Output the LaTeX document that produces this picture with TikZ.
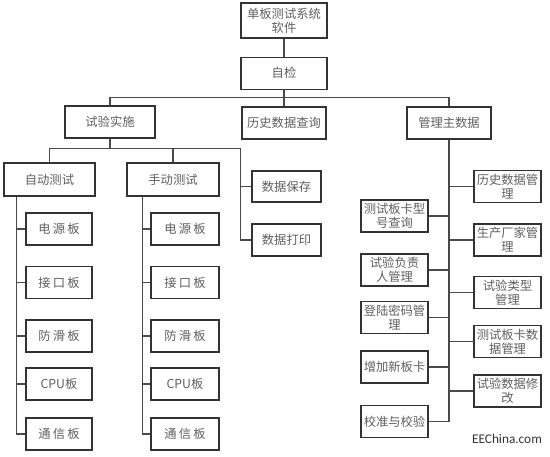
\documentclass[tikz,border=0pt]{standalone}
\usepackage{fontspec}
\setmainfont{Noto Sans CJK SC}
\newfontfamily\widecjk[LetterSpace=18]{Noto Sans CJK SC}
\newfontfamily\wmfont{Carlito}
\usetikzlibrary{positioning}
\definecolor{ink}{HTML}{333333}
\definecolor{txt}{HTML}{606060}
\definecolor{wire}{HTML}{4A4A4A}
\tikzset{
  box/.style={draw=ink,line width=1.1pt,fill=white,align=center,text=txt,font=\fontsize{12.3}{14}\selectfont,inner sep=1pt},
  conn/.style={draw=wire,line width=1.3pt},
  wm/.style={font=\wmfont\fontsize{13.3}{15}\selectfont,text=ink}}

\begin{document}
\begin{tikzpicture}[x=1pt,y=-1pt]
\useasboundingbox (0,0) rectangle (550,457);
% top
\node[box,minimum width=86pt,minimum height=35pt] (root) at (284,20.5) {单板测试系统\\软件};
\node[box,minimum width=86pt,minimum height=32pt,below=18pt of root] (chk) {自检};
\node[box,minimum width=90pt,minimum height=32pt] (shiyan) at (110,122) {试验实施};
\node[box,minimum width=84pt,minimum height=32pt] (lishi) at (284,123) {历史数据查询};
\node[box,minimum width=84pt,minimum height=32pt] (guanli) at (449,123) {管理主数据};
\draw[conn] (root) -- (chk);
\draw[conn] (chk.south) -- ++(0,8) -| (shiyan.north);
\draw[conn] (chk.south) -- ++(0,8) -| (guanli.north);
\draw[conn] (chk) -- (lishi);
% test branch
\node[box,minimum width=91pt,minimum height=33pt] (auto) at (49.5,179.5) {自动测试};
\node[box,minimum width=92pt,minimum height=33pt] (manual) at (173,179.5) {手动测试};
\node[box,minimum width=69pt,minimum height=31pt] (save) at (286.5,186.5) {数据保存};
\node[box,minimum width=69pt,minimum height=32pt] (print) at (286.5,240) {数据打印};
\draw[conn] (shiyan.south) -- ++(0,10) -| (auto.north);
\draw[conn] (shiyan.south) -- ++(0,10) -| (manual.north);
\draw[conn] (shiyan.south) -- ++(0,10) -| ([xshift=-11pt]print.west) -- (print.west);
\draw[conn] (save.west) -- ++(-11,0);
\foreach \t/\y [count=\i] in {{\widecjk 电源板}/229,{\widecjk 接口板}/282.5,{\widecjk 防滑板}/336,CPU板/384,{\widecjk 通信板}/434}{
  \node[box,minimum width=66pt,minimum height=32pt] (a\i) at (59,\y) {\t};
  \node[box,minimum width=68pt,minimum height=32pt] (m\i) at (185,\y) {\t};
  \draw[conn] (a\i.west) -- ++(-9,0);
  \draw[conn] (m\i.west) -- ++(-8,0);
}
\draw[conn] ([xshift=13pt]auto.south west) |- (a5.west);
\draw[conn] ([xshift=16pt]manual.south west) |- (m5.west);
% master data branch
\foreach \t/\y [count=\i] in {测试板卡型\\号查询/216,试验负责\\人管理/270,登陆密码管\\理/317.5,增加新板卡/367,校准与校验/421.5}{
  \node[box,minimum width=67pt,minimum height=32pt] (l\i) at (394.5,\y) {\t};
  \draw[conn] (l\i.east) -- (l\i.east -| guanli.south);
}
\foreach \t/\y [count=\i] in {历史数据管\\理/186.5,生产厂家管\\理/240,试验类型\\管理/292.5,测试板卡数\\据管理/341.5,试验数据修\\改/391}{
  \node[box,minimum width=67pt,minimum height=32pt] (r\i) at (507.5,\y) {\t};
  \draw[conn] (r\i.west) -- (r\i.west -| guanli.south);
}
\draw[conn] (guanli.south) |- (l5.east);
\node[wm] (site) at (507,439) {EEChina.com};
\end{tikzpicture}
\end{document}
